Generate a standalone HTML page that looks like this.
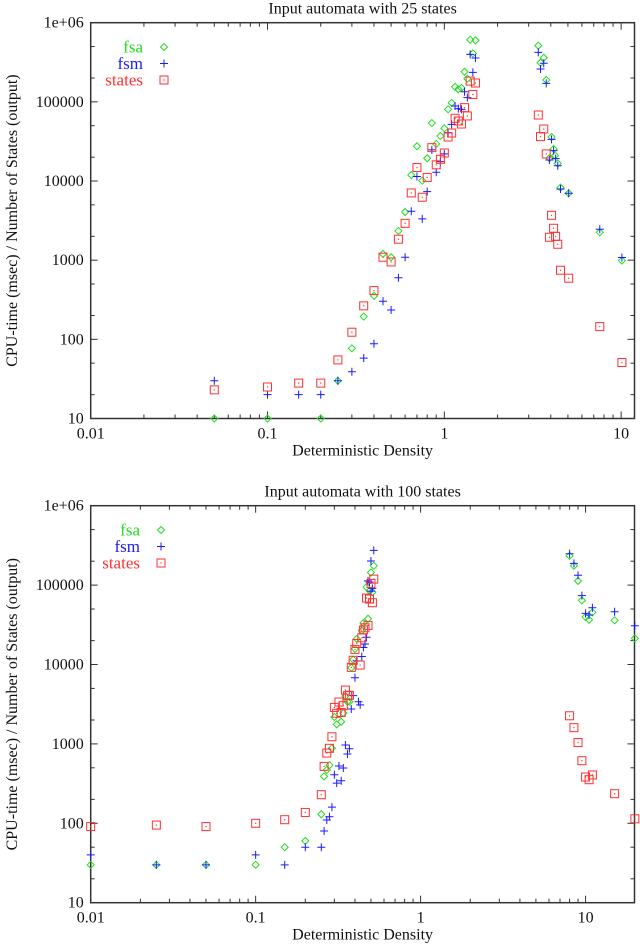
<!DOCTYPE html>
<html><head><meta charset="utf-8"><style>
html,body{margin:0;padding:0;background:#fff;}
svg{display:block;font-family:"Liberation Serif",serif;}
</style></head><body>
<svg id="chart" width="640" height="946" viewBox="0 0 640 946" xmlns="http://www.w3.org/2000/svg"></svg>
<script>
// ---- Top chart data (25 states) ----
const topFsaX=[0.05,0.1,0.2,0.25,0.3,0.35,0.4,0.45,0.5,0.55,0.6,0.65,0.7,0.75,0.8,0.85,0.9,0.95,1.0,1.05,1.1,1.15,1.2,1.25,1.3,1.35,1.4,1.45,1.5,3.4,3.5,3.65,3.77,4.04,4.15,3.93,4.23,4.38,4.54,5.05,7.57,10.1];
const topFsaY=[10,10,10,30,77,194,354,1200,1090,2340,4060,11900,27500,10100,19400,54000,29400,37000,46300,80500,97000,155000,144000,150000,240000,196000,610000,410000,598000,513000,312000,361000,189000,36000,25400,19400,21000,16700,8260,7000,2250,990];
const topFsmX=[0.05,0.1,0.15,0.2,0.25,0.3,0.35,0.4,0.45,0.5,0.55,0.6,0.65,0.7,0.75,0.8,0.85,0.9,0.95,1.0,1.05,1.1,1.15,1.2,1.25,1.3,1.35,1.4,1.45,1.5,3.4,3.5,3.65,3.77,4.04,4.15,3.93,4.26,4.38,4.54,5.05,7.57,10.1];
const topFsmY=[30,20,20,20,30,39,58,88,303,235,600,1090,4150,11400,3320,7350,24700,12900,17600,22000,40800,52000,88700,82000,80500,134000,113000,398000,236000,358000,422000,260000,307000,171000,33600,24200,18400,19200,15600,7940,7000,2460,1080];
const topStX=[0.05,0.1,0.15,0.2,0.25,0.3,0.35,0.4,0.45,0.5,0.55,0.6,0.65,0.7,0.75,0.8,0.85,0.9,0.95,1.0,1.05,1.1,1.15,1.2,1.25,1.3,1.35,1.4,1.45,1.5,3.4,3.5,3.65,3.77,4.04,4.15,3.93,4.26,4.38,4.54,5.05,7.57,10.1];
const topStY=[23,25,28,28,55,123,265,413,1090,950,1840,2920,7070,14800,6240,11100,26400,16000,18800,22600,36000,40400,62000,57300,52500,84500,66400,183000,124000,173000,68200,36400,45400,22000,3690,2530,1950,2000,1590,746,592,145,51];
// ---- Bottom chart data (100 states) ----
const botFsaX=[0.01,0.025,0.05,0.1,0.15,0.2,0.25,0.26,0.27,0.28,0.29,0.30,0.31,0.33,0.34,0.35,0.36,0.37,0.38,0.39,0.40,0.41,0.44,0.45,0.48,0.47,0.49,0.51,0.50,0.52,8.0,8.5,9.0,9.5,10.0,10.5,11.0,15.0,19.9];
const botFsaY=[30,30,30,30,50,60,130,390,470,540,880,2180,1760,1900,2450,4000,3400,3400,9100,11500,15700,21000,26700,33300,37700,94600,85000,81800,144000,175000,234000,175000,113000,64200,39600,36600,45400,36000,21300];
const botFsmX=[0.01,0.025,0.05,0.1,0.15,0.2,0.25,0.26,0.27,0.28,0.29,0.30,0.31,0.32,0.33,0.34,0.35,0.36,0.37,0.38,0.39,0.40,0.42,0.43,0.41,0.44,0.45,0.46,0.47,0.48,0.49,0.5,0.51,0.50,0.52,8.0,8.5,9.0,9.5,10.0,10.5,11.0,15.0,19.9];
const botFsmY=[40,30,30,40,30,50,50,80,110,121,160,409,321,526,343,497,968,745,870,2750,4050,6820,3400,3100,11100,12600,16400,18100,22000,113000,109000,84000,91000,201000,274000,248000,188000,133000,73600,44000,42000,51900,46200,30800];
const botStX=[0.01,0.025,0.05,0.1,0.15,0.2,0.25,0.26,0.27,0.28,0.29,0.30,0.31,0.32,0.33,0.34,0.35,0.36,0.37,0.38,0.39,0.40,0.41,0.43,0.44,0.45,0.46,0.48,0.47,0.49,0.51,0.50,0.52,8.0,8.5,9.0,9.5,10.0,10.5,11.0,15.0,19.9];
const botStY=[91,95,91,100,111,137,229,521,767,880,1230,2880,2430,3370,2490,3030,4760,4050,4100,9200,11300,15500,18400,9840,21700,27200,29000,31100,68700,66700,60000,105000,119000,2260,1600,1040,614,383,354,406,236,114];
const yTickLabels=["10","100","1000","10000","100000","1e+06"];
const yTickValues=[10,100,1000,10000,100000,1000000];
const xTickLabels=["0.01","0.1","1","10"];
const xTickValues=[0.01,0.1,1,10];
const seriesNames=["fsa","fsm","states"];

const NS="http://www.w3.org/2000/svg";
const svg=document.getElementById('chart');
function mk(tag,attrs,parent){const e=document.createElementNS(NS,tag);for(const k in attrs)e.setAttribute(k,attrs[k]);(parent||svg).appendChild(e);return e;}
const COL={fsa:"#22dd22",fsm:"#1a1aff",states:"#ff3030"};

function drawChart(cfg){
  const g=mk('g',{});
  
  
  const L=cfg.left,R=cfg.right,T=cfg.top,B=cfg.bottom;
  const lx0=Math.log10(cfg.xmin),lx1=Math.log10(cfg.xmax);
  const sx=v=>L+(Math.log10(v)-lx0)/(lx1-lx0)*(R-L);
  const sy=v=>B-(Math.log10(v)-1)/5*(B-T);
  const t=mk('text',{x:(L+R)/2,y:T-9,'text-anchor':'middle','font-size':'16',fill:'#111'},g);
  t.textContent=cfg.title;
  
  
  yTickValues.forEach((v,i)=>{
    const y=sy(v);
    if(i>0&&i<yTickValues.length-1){mk('line',{x1:L,x2:L+7,y1:y,y2:y,stroke:'#333','stroke-width':1},g);mk('line',{x1:R,x2:R-7,y1:y,y2:y,stroke:'#333','stroke-width':1},g);}
    const lb=mk('text',{x:L-7,y:y+5,'text-anchor':'end','font-size':'16',fill:'#111'},g);
    lb.textContent=yTickLabels[i];
    
    
    if(i<yTickValues.length-1){[2,5].forEach(m=>{const yy=sy(v*m);mk('line',{x1:L,x2:L+4,y1:yy,y2:yy,stroke:'#333','stroke-width':1},g);mk('line',{x1:R,x2:R-4,y1:yy,y2:yy,stroke:'#333','stroke-width':1},g);});}
  });
  xTickValues.forEach((v,i)=>{
    const x=sx(v);
    if(x>L+1&&x<R-1){mk('line',{x1:x,x2:x,y1:B,y2:B-7,stroke:'#333','stroke-width':1},g);mk('line',{x1:x,x2:x,y1:T,y2:T+7,stroke:'#333','stroke-width':1},g);}
    const lb=mk('text',{x:x,y:B+20,'text-anchor':'middle','font-size':'16',fill:'#111'},g);
    lb.textContent=xTickLabels[i];
    
    
    for(let m=2;m<=9;m++){const xv=v*m;if(xv>=cfg.xmax)break;const xx=sx(xv);mk('line',{x1:xx,x2:xx,y1:B,y2:B-4,stroke:'#333','stroke-width':1},g);mk('line',{x1:xx,x2:xx,y1:T,y2:T+4,stroke:'#333','stroke-width':1},g);}
  });
  const xt=mk('text',{x:(L+R)/2,y:B+37,'text-anchor':'middle','font-size':'16',fill:'#111'},g);
  xt.textContent="Deterministic Density";
  
  
  const cy=(T+B)/2;
  const yt=mk('text',{x:0,y:0,'text-anchor':'middle','font-size':'16',fill:'#111',transform:`translate(17,${cy}) rotate(-90)`},g);
  yt.textContent="CPU-time (msec) / Number of States (output)";
  
  
  const fr=mk('rect',{x:L,y:T,width:R-L,height:B-T,fill:'none',stroke:'#333','stroke-width':1.5},g);
  
  
  function marker(type,x,y,parent){
    let e;
    if(type==='fsa'){e=mk('path',{d:`M${x} ${y-3.5}L${x+3.5} ${y}L${x} ${y+3.5}L${x-3.5} ${y}Z`,fill:'none',stroke:COL.fsa,'stroke-width':1},parent);}
    else if(type==='fsm'){e=mk('path',{d:`M${x-4} ${y}H${x+4}M${x} ${y-4}V${y+4}`,stroke:COL.fsm,'stroke-width':1},parent);}
    else {e=mk('g',{},parent);mk('rect',{x:x-4,y:y-4,width:8,height:8,fill:'none',stroke:COL.states,'stroke-width':1},e);mk('rect',{x:x-0.6,y:y-0.6,width:1.2,height:1.2,fill:COL.states},e);}
    return e;
  }
  const series=[['fsa',cfg.fsaX,cfg.fsaY],['fsm',cfg.fsmX,cfg.fsmY],['states',cfg.stX,cfg.stY]];
  series.forEach(([name,xs,ys])=>{
    const sg=mk('g',{},g);
    
    
    xs.forEach((xv,i)=>{
      const m=marker(name,sx(xv),sy(ys[i]),sg);
      
      
    });
  });
  const lg=mk('g',{},g);
  
  
  seriesNames.forEach((n,i)=>{
    const y=cfg.legY+i*16.5;
    const tx=mk('text',{x:cfg.legTextX,y:y+5.5,'text-anchor':'end','font-size':'17',fill:COL[n]},lg);
    tx.textContent=n;
    
    
    marker(n,cfg.legMarkX,y,lg);
  });
}
drawChart({name:'chart-25-states',title:'Input automata with 25 states',left:90.7,right:634.5,top:22.7,bottom:418.5,xmin:0.01,xmax:11.9,
  fsaX:topFsaX,fsaY:topFsaY,fsmX:topFsmX,fsmY:topFsmY,stX:topStX,stY:topStY,legY:47,legTextX:143,legMarkX:164});
drawChart({name:'chart-100-states',title:'Input automata with 100 states',left:90.7,right:634.5,top:505.7,bottom:902.7,xmin:0.01,xmax:19.8,
  fsaX:botFsaX,fsaY:botFsaY,fsmX:botFsmX,fsmY:botFsmY,stX:botStX,stY:botStY,legY:530,legTextX:140,legMarkX:161});
</script>
</body></html>
